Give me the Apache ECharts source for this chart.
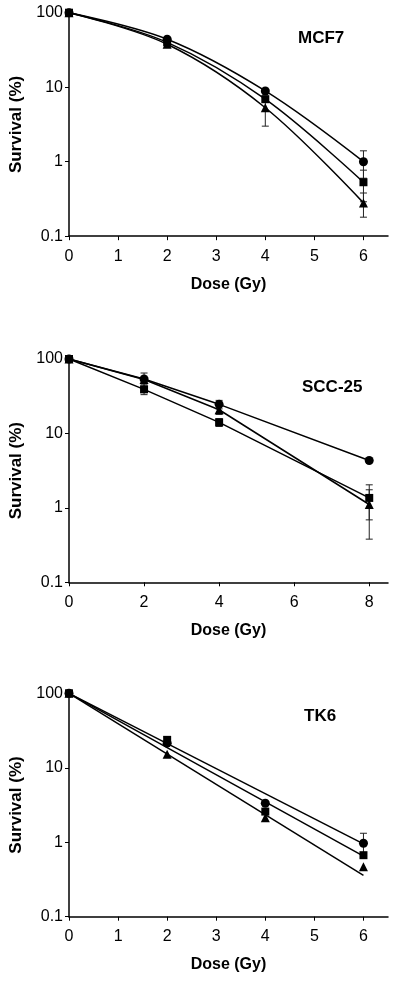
<!DOCTYPE html>
<html><head><meta charset="utf-8">
<script src="https://cdn.jsdelivr.net/npm/echarts@6/dist/echarts.min.js"></script>
<style>html,body{margin:0;padding:0;background:#fff;}#c{width:400px;height:982px;}</style>
</head><body><div id="c"></div>
<script>
// ---- Data ----
const panelTitles = ['MCF7', 'SCC-25', 'TK6'];
const yTickLabels = ['0.1', '1', '10', '100'];

// MCF7
const mcfDoses = [0, 2, 4, 6];
const mcfCircle = [100, 44, 8.9, 1.0];
const mcfSquare = [100, 40, 6.9, 0.53];
const mcfTriangle = [100, 37.7, 5.3, 0.28];
const mcfCircleLow = [null, null, null, 0.6];
const mcfCircleHigh = [null, null, null, 1.4];
const mcfSquareLow = [null, null, null, 0.29];
const mcfSquareHigh = [null, null, null, 0.77];
const mcfTriangleLow = [null, null, 3.0, 0.18];
const mcfTriangleHigh = [null, null, 7.6, 0.38];
const mcfXTicks = [0, 1, 2, 3, 4, 5, 6];

// SCC-25
const sccDoses = [0, 2, 4, 8];
const sccCircle = [100, 53.8, 24.6, 4.33];
const sccSquare = [100, 39.1, 14.1, 1.36];
const sccTriangle = [100, 53, 20.8, 1.11];
const sccCircleLow = [null, 43, 21.4, null];
const sccCircleHigh = [null, 64.8, 27.8, null];
const sccSquareLow = [null, 33.2, 12.4, 0.69];
const sccSquareHigh = [null, 45, 15.8, 2.04];
const sccTriangleLow = [null, null, 18, 0.38];
const sccTriangleHigh = [null, null, 24, 1.75];
const sccXTicks = [0, 2, 4, 6, 8];

// TK6
const tkDoses = [0, 2, 4, 6];
const tkCircle = [100, 21.4, 3.34, 0.97];
const tkSquare = [100, 23.7, 2.58, 0.67];
const tkTriangle = [100, 15.2, 2.14, 0.47];
const tkCircleLow = [null, null, null, 0.68];
const tkCircleHigh = [null, null, null, 1.32];
const tkSquareLow = [null, 21, null, null];
const tkSquareHigh = [null, 26, null, null];
const tkFitDoses = [0, 6];
const tkFitCircle = [100, 0.95];
const tkFitSquare = [100, 0.65];
const tkFitTriangle = [100, 0.36];
const tkXTicks = [0, 1, 2, 3, 4, 5, 6];

// ---- Build ----
const pairs = (xs, ys) => xs.map((x, i) => [x, ys[i]]);
const errs = (xs, lo, hi) => xs.map((x, i) => [x, lo[i], hi[i]]).filter(d => d[1] != null && d[2] != null);

const FONT = '"Liberation Sans", Arial, sans-serif';
const grids = [
  { left: 69, right: 12, top: 12.7, height: 223.5 },
  { left: 68.3, right: 12, top: 359, height: 223.3 },
  { left: 68.3, right: 12, top: 693.3, height: 223.4 }
];
const xMax = [6.5, 8.5, 6.5];
const xTicks = [mcfXTicks, sccXTicks, tkXTicks];

function xAxis(i) {
  return {
    type: 'value', gridIndex: i, min: 0, max: xMax[i],
    name: 'Dose (Gy)', nameLocation: 'middle', nameGap: 40,
    nameTextStyle: { fontFamily: FONT, fontWeight: 'bold', fontSize: 16, color: '#000' },
    axisLine: { lineStyle: { color: '#000', width: 1.5 } },
    axisTick: { show: true, length: 4, lineStyle: { color: '#000', width: 1 }, customValues: xTicks[i] },
    axisLabel: { fontFamily: FONT, fontSize: 16, color: '#000', margin: 12, customValues: xTicks[i] },
    splitLine: { show: false }
  };
}
function yAxis(i) {
  return {
    type: 'log', logBase: 10, gridIndex: i, min: 0.1, max: 100,
    name: 'Survival (%)', nameLocation: 'middle', nameGap: 44, nameRotate: 90,
    nameTextStyle: { fontFamily: FONT, fontWeight: 'bold', fontSize: 17, color: '#000' },
    axisLine: { show: true, lineStyle: { color: '#000', width: 1.5 } },
    axisTick: { show: true, length: 4, lineStyle: { color: '#000', width: 1 } },
    axisLabel: { fontFamily: FONT, fontSize: 16, color: '#000', margin: 6,
      formatter: v => yTickLabels.find(t => Math.abs(parseFloat(t) - v) < 1e-9) || '' },
    splitLine: { show: false }
  };
}

function errRender(params, api) {
  const x = api.value(0), lo = api.value(1), hi = api.value(2);
  const p1 = api.coord([x, lo]), p2 = api.coord([x, hi]);
  const w = 3.5;
  const st = { stroke: '#222', lineWidth: 1 };
  return { type: 'group', children: [
    { type: 'line', shape: { x1: p1[0], y1: p1[1], x2: p2[0], y2: p2[1] }, style: st },
    { type: 'line', shape: { x1: p1[0] - w, y1: p1[1], x2: p1[0] + w, y2: p1[1] }, style: st },
    { type: 'line', shape: { x1: p2[0] - w, y1: p2[1], x2: p2[0] + w, y2: p2[1] }, style: st }
  ] };
}
function errSeries(i, data) {
  return { type: 'custom', xAxisIndex: i, yAxisIndex: i, renderItem: errRender, data: data, z: 1, silent: true,
    encode: { x: 0, y: [1, 2] } };
}
const SYM = { circle: ['circle', 9], square: ['rect', 8], triangle: ['triangle', 9] };
function lineSeries(i, data, sym, smooth, showSym) {
  return { type: 'line', xAxisIndex: i, yAxisIndex: i, data: data, smooth: smooth,
    symbol: SYM[sym][0], symbolSize: SYM[sym][1], showSymbol: showSym !== false,
    itemStyle: { color: '#000', opacity: 1 }, lineStyle: { color: '#000', width: 1.5 }, z: 3, silent: true, animation: false };
}
function scatterSeries(i, data, sym) {
  return { type: 'scatter', xAxisIndex: i, yAxisIndex: i, data: data,
    symbol: SYM[sym][0], symbolSize: SYM[sym][1], itemStyle: { color: '#000', opacity: 1 }, z: 4, silent: true, animation: false };
}

const series = [
  errSeries(0, errs(mcfDoses, mcfCircleLow, mcfCircleHigh)),
  errSeries(0, errs(mcfDoses, mcfSquareLow, mcfSquareHigh)),
  errSeries(0, errs(mcfDoses, mcfTriangleLow, mcfTriangleHigh)),
  lineSeries(0, pairs(mcfDoses, mcfTriangle), 'triangle', 0.35),
  lineSeries(0, pairs(mcfDoses, mcfSquare), 'square', 0.35),
  lineSeries(0, pairs(mcfDoses, mcfCircle), 'circle', 0.35),

  errSeries(1, errs(sccDoses, sccCircleLow, sccCircleHigh)),
  errSeries(1, errs(sccDoses, sccSquareLow, sccSquareHigh)),
  errSeries(1, errs(sccDoses, sccTriangleLow, sccTriangleHigh)),
  lineSeries(1, pairs(sccDoses, sccTriangle), 'triangle', false),
  lineSeries(1, pairs(sccDoses, sccSquare), 'square', false),
  lineSeries(1, pairs(sccDoses, sccCircle), 'circle', false),

  errSeries(2, errs(tkDoses, tkCircleLow, tkCircleHigh)),
  errSeries(2, errs(tkDoses, tkSquareLow, tkSquareHigh)),
  lineSeries(2, pairs(tkFitDoses, tkFitTriangle), 'triangle', false, false),
  lineSeries(2, pairs(tkFitDoses, tkFitSquare), 'square', false, false),
  lineSeries(2, pairs(tkFitDoses, tkFitCircle), 'circle', false, false),
  scatterSeries(2, pairs(tkDoses, tkTriangle), 'triangle'),
  scatterSeries(2, pairs(tkDoses, tkSquare), 'square'),
  scatterSeries(2, pairs(tkDoses, tkCircle), 'circle')
];

const titlePos = [[298, 30], [302, 379], [304, 708]];
const option = {
  backgroundColor: '#fff',
  animation: false,
  title: panelTitles.map((t, i) => ({ text: t, left: titlePos[i][0], top: titlePos[i][1], padding: 0,
    textStyle: { fontFamily: FONT, fontWeight: 'bold', fontSize: 17, color: '#000' } })),
  grid: grids,
  xAxis: [0, 1, 2].map(xAxis),
  yAxis: [0, 1, 2].map(yAxis),
  series: series
};
const chart = echarts.init(document.getElementById('c'), null, { renderer: 'canvas' });
chart.setOption(option);
</script></body></html>
